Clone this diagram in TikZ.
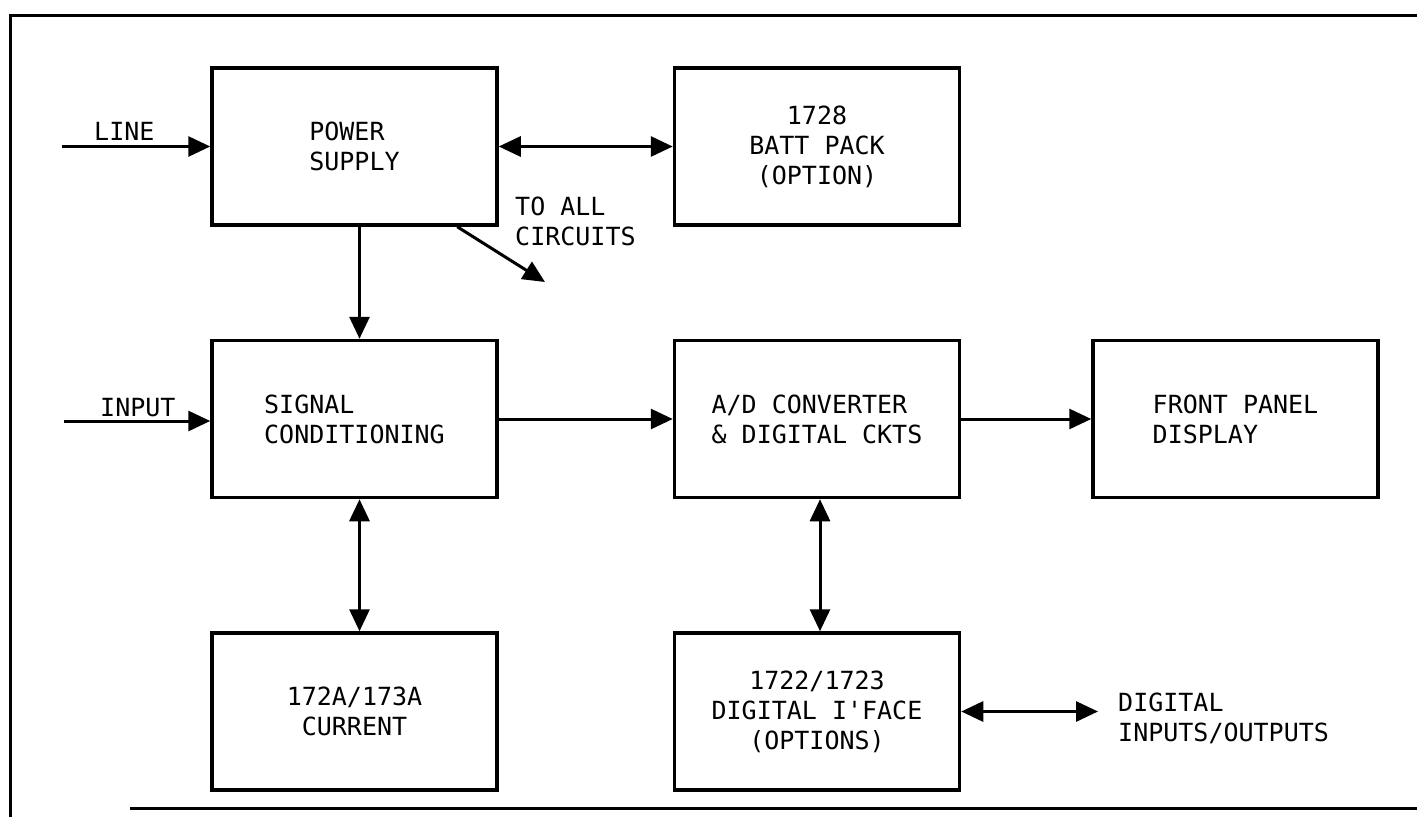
\documentclass[tikz,border=0pt]{standalone}
\usepackage{fontspec}
\setmonofont{DejaVu Sans Mono}
\usetikzlibrary{arrows.meta, positioning, calc}

\begin{document}
\begin{tikzpicture}[
  x=1pt,
  y=-1pt,
  >={Triangle[length=22pt, width=20pt]},
  font=\ttfamily\fontsize{25}{30}\selectfont,
  block/.style={draw, line width=3.5pt, align=center, inner sep=0pt,
    minimum width=285pt, minimum height=157pt},
  blockleft/.style={block, align=left},
  arrow/.style={->, line width=3pt},
  biarrow/.style={<->, line width=3pt},
  lab/.style={align=left, inner sep=0pt, anchor=north west}
]
  \useasboundingbox (0,0) rectangle (1417,817);

  % Outer frame of the scanned page.
  \draw[line width=3pt] (10,817) -- (10,15) -- (1417,15);
  \draw[line width=3pt] (130,808) -- (1417,808);

  % Top row: supply and battery option.
  \node[blockleft] at (354.5,146.5) (ps)   {POWER\\SUPPLY};
  \node[block]     at (817,146.5)   (batt) {1728\\BATT PACK\\ (OPTION)};

  % Middle row: the signal path.
  \node[blockleft] at (354.5,419)   (sc)   {SIGNAL\\CONDITIONING};
  \node[blockleft] at (817,419)     (adc)  {A/D CONVERTER\\\& DIGITAL CKTS};
  \node[blockleft] at (1235.5,419)  (fp)   {FRONT PANEL\\DISPLAY};

  % Bottom row: plug-in options.
  \node[block]     at (354.5,711.5) (cur)  {172A/173A\\CURRENT};
  \node[block]     at (817,711.5)   (dig)  {1722/1723\\DIGITAL I'FACE\\(OPTIONS)};

  % Free ends of the outside connections.
  \coordinate (linein)  at (62,146.5);
  \coordinate (sigin)   at (64,421);
  \coordinate (allcirc) at (545,282);
  \coordinate (digio)   at (1098,711.5);

  \draw[arrow]   (linein)  -- (ps);
  \draw[biarrow] (ps)      -- (batt);
  \draw[arrow]   ([xshift=5pt]ps.south) -- ([xshift=5pt]sc.north);
  \draw[arrow]   (ps.-38)  -- (allcirc);
  \draw[arrow]   (sigin)   -- (sigin -| sc.west);
  \draw[arrow]   (sc)      -- (adc);
  \draw[arrow]   (adc)     -- (fp);
  \draw[biarrow] ([xshift=5pt]sc.south) -- ([xshift=5pt]cur.north);
  \draw[biarrow] ([xshift=3pt]adc.south) -- ([xshift=3pt]dig.north);
  \draw[biarrow] (dig)     -- (digio);

  % Labels on the outside connections.
  \node[lab] at (94,122)   (linelab)  {LINE};
  \node[lab] at (100,398)  (inputlab) {INPUT};
  \node[lab] at (515,197)  (alllab)   {TO ALL\\CIRCUITS};
  \node[lab] at (1118,693) (iolab)    {DIGITAL\\INPUTS/OUTPUTS};

\end{tikzpicture}
\end{document}
